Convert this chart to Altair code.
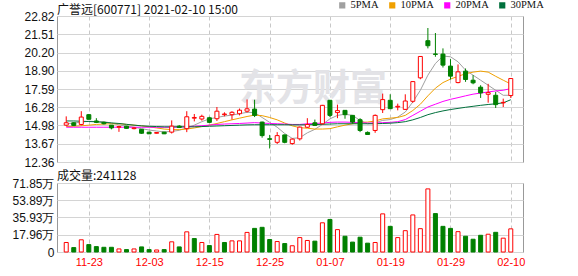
import altair as alt
import pandas as pd
import numpy as np

dates = ["11-18","11-19","11-20","11-23","11-24","11-25","11-26","11-27","11-30","12-01",
         "12-02","12-03","12-04","12-07","12-08","12-09","12-10","12-11","12-14","12-15",
         "12-16","12-17","12-18","12-21","12-22","12-23","12-24","12-25","12-28","12-29",
         "12-30","12-31","01-04","01-05","01-06","01-07","01-08","01-11","01-12","01-13",
         "01-14","01-15","01-18","01-19","01-20","01-21","01-22","01-25","01-26","01-27",
         "01-28","01-29","02-01","02-02","02-03","02-04","02-05","02-08","02-09","02-10"]
opens = [15.00,15.17,15.05,15.75,15.30,15.20,15.00,14.85,14.93,14.75,
         14.70,14.50,14.42,14.50,14.50,14.93,14.75,15.50,15.44,15.53,
         15.46,15.75,15.75,15.82,16.00,16.15,15.22,14.03,13.77,14.30,
         13.68,14.02,14.85,15.17,15.10,16.78,15.90,16.06,15.70,15.39,
         14.48,14.62,16.11,16.78,16.30,16.13,16.71,18.39,21.05,20.10,
         20.09,19.23,18.05,18.87,18.22,17.72,17.21,17.14,16.60,17.12]
highs = [15.63,15.22,16.00,15.80,15.50,15.25,15.00,14.95,14.95,14.85,
         14.72,14.52,14.50,14.52,15.34,15.00,16.00,15.80,15.75,15.60,
         16.30,15.92,16.00,16.19,16.84,16.82,15.25,14.30,14.50,14.32,
         14.05,14.90,15.50,15.40,16.45,16.80,16.47,16.08,15.72,15.50,
         14.55,15.77,17.26,17.21,16.54,17.21,18.15,19.95,21.96,21.60,
         20.50,19.73,19.35,19.06,18.58,17.86,17.96,17.38,16.90,18.36]
lows = [14.93,14.93,14.98,15.40,15.15,15.05,14.70,14.52,14.75,14.70,
        14.38,14.36,14.40,14.36,14.40,14.80,14.50,15.27,15.32,15.15,
        15.30,15.63,15.40,15.70,15.90,15.58,14.10,13.33,13.65,13.70,
        13.60,13.90,14.80,14.95,15.05,15.58,15.50,15.46,15.10,14.50,
        14.33,14.45,15.87,16.18,16.06,16.10,16.60,18.29,20.50,19.90,
        19.13,18.27,18.00,18.10,17.93,16.95,16.61,16.23,16.30,16.95]
closes = [15.17,14.98,15.58,15.42,15.20,15.10,14.80,14.90,14.77,14.80,
          14.42,14.38,14.47,14.38,14.93,14.83,15.60,15.55,15.63,15.20,
          16.00,15.80,15.92,16.07,16.17,15.70,14.25,13.98,14.25,13.77,
          14.00,14.86,15.05,14.98,16.42,15.70,16.04,15.75,15.22,14.62,
          14.33,15.70,16.83,16.18,16.35,16.73,18.12,19.92,20.69,20.07,
          19.30,18.51,18.82,18.27,18.03,17.31,17.33,16.47,16.63,18.34]
volumes = [9.9,4.6,12.7,7.7,5.6,4.9,4.9,3.2,2.5,3.2,
           5.3,2.5,2.1,2.5,10.6,5.3,21.0,14.0,9.9,6.7,
           18.3,9.9,11.6,11.6,20.4,24.6,25.7,13.0,10.9,8.8,
           6.5,15.0,12.0,11.3,30.4,33.9,23.3,16.4,10.3,15.4,
           9.2,9.9,39.7,26.7,15.0,22.2,38.6,24.3,65.7,40.0,
           26.7,24.6,21.2,16.4,13.3,17.4,18.5,20.5,14.4,24.1]
vol_dir = ["up","down","up","down","down","down","down","up","down","up",
           "down","down","up","down","up","down","up","down","up","down",
           "up","down","up","up","up","down","down","down","up","down",
           "up","up","up","down","up","down","up","down","down","down",
           "down","up","up","down","up","up","up","up","up","down",
           "down","down","up","down","down","down","up","down","up","up"]
ma5 = [15.10,15.15,15.22,15.28,15.25,15.25,15.15,15.02,14.92,14.85,
       14.75,14.65,14.58,14.52,14.55,14.63,14.80,15.00,15.25,15.45,
       15.55,15.65,15.72,15.82,15.92,15.90,15.55,15.20,14.85,14.40,
       14.05,14.10,14.45,14.70,15.05,15.45,15.70,15.78,15.70,15.34,
       15.10,15.17,15.34,15.40,15.58,15.94,16.66,17.50,18.58,19.42,
       19.95,19.90,19.54,18.94,18.58,18.22,17.86,17.50,17.14,17.14]
ma10 = [14.90,14.92,14.95,15.00,15.05,15.08,15.10,15.10,15.05,15.00,
        14.95,14.88,14.80,14.72,14.68,14.68,14.72,14.80,14.90,15.00,
        15.12,15.25,15.38,15.50,15.62,15.72,15.68,15.55,15.38,15.15,
        14.95,14.82,14.78,14.72,14.72,14.75,14.88,15.00,15.10,15.20,
        15.22,15.30,15.45,15.50,15.55,15.70,16.05,16.50,17.10,17.65,
        18.05,18.30,18.50,18.68,18.80,18.87,18.80,18.50,18.22,17.95]
ma20 = [14.85,14.85,14.85,14.85,14.85,14.85,14.85,14.85,14.85,14.85,
        14.85,14.85,14.85,14.85,14.85,14.86,14.88,14.92,14.96,15.00,
        15.05,15.08,15.10,15.12,15.15,15.18,15.15,15.12,15.10,15.08,
        15.05,15.05,15.10,15.12,15.15,15.20,15.22,15.22,15.20,15.18,
        15.15,15.15,15.18,15.20,15.25,15.40,15.70,16.00,16.30,16.50,
        16.70,16.85,16.97,17.10,17.22,17.30,17.38,17.45,17.50,17.62]
ma30 = [15.30,15.30,15.28,15.26,15.24,15.20,15.16,15.12,15.06,15.00,
        14.95,14.92,14.90,14.88,14.88,14.88,14.88,14.88,14.90,14.92,
        14.94,14.96,14.98,15.00,15.02,15.03,15.03,15.03,15.03,15.03,
        15.02,15.02,15.03,15.04,15.06,15.08,15.10,15.10,15.10,15.10,
        15.10,15.10,15.12,15.14,15.18,15.25,15.38,15.55,15.75,15.90,
        16.02,16.12,16.20,16.28,16.35,16.42,16.48,16.53,16.60,16.82]
ma_names = ["5PMA", "10PMA", "20PMA", "30PMA"]
ma_colors = ["#a0a0a0", "#f0a000", "#ff00ff", "#00703c"]
tick_idx = [4, 12, 20, 28, 36, 44, 52, 60]
price_ticks = [12.36, 13.67, 14.98, 16.28, 17.59, 18.90, 20.20, 21.51, 22.82]
vol_ticks = [0, 17.96, 35.93, 53.89, 71.85]
title_text = "广誉远[600771] 2021-02-10 15:00"
vol_title = "成交量:241128"
watermark = "东方财富"

RED = "#ff0000"
GREEN = "#008000"

idx = list(range(1, len(dates) + 1))
df = pd.DataFrame({"i": idx, "date": dates, "open": opens, "high": highs,
                   "low": lows, "close": closes, "vol": volumes, "vdir": vol_dir})
df["dir"] = np.where(df["close"] >= df["open"], "up", "down")

ma_df = pd.concat([
    pd.DataFrame({"i": idx, "ma": name, "v": vals})
    for name, vals in zip(ma_names, [ma5, ma10, ma20, ma30])
])

label_expr = "".join(f"datum.value == {k} ? '{dates[k-1]}' : " for k in tick_idx) + "''"

xscale = alt.Scale(domain=[0.44, 60.96], nice=False, zero=False)
x_top_axis = alt.Axis(values=tick_idx, labels=False, ticks=False, domain=False, grid=True,
                      gridDash=[4, 3], gridColor="#c8c8c8", title=None, minExtent=0, maxExtent=0)
x_bot_axis = alt.Axis(values=tick_idx, labelExpr=label_expr, ticks=False, domain=False, grid=True,
                      gridDash=[4, 3], gridColor="#c8c8c8", title=None, labelColor=RED,
                      labelFontSize=11, labelPadding=4, labelFont="Liberation Sans",
                      labelOverlap=False)

pscale = alt.Scale(domain=[12.36, 22.82], nice=False, zero=False)
p_axis = alt.Axis(values=price_ticks, format=".2f", ticks=False, domain=False, grid=True,
                  gridColor="#d4d4d4", title=None, labelPadding=3, minExtent=50, maxExtent=50,
                  labelFontSize=12, labelFont="Liberation Sans", labelColor="#111",
                  labelOverlap=False)

fill_scale = alt.Scale(domain=["up", "down"], range=["#ffffff", GREEN])
stroke_scale = alt.Scale(domain=["up", "down"], range=[RED, GREEN])

base = alt.Chart(df)

wm = alt.Chart(pd.DataFrame({"t": [watermark]})).mark_text(
    fontSize=37, font="Noto Sans CJK SC", fontWeight="bold", color="#e3e3e7"
).encode(text="t:N", x=alt.value(256), y=alt.value(74))

lines = alt.Chart(ma_df).mark_line(strokeWidth=1).encode(
    x=alt.X("i:Q", scale=xscale, axis=x_top_axis),
    y=alt.Y("v:Q", scale=pscale, axis=p_axis),
    color=alt.Color("ma:N", scale=alt.Scale(domain=ma_names, range=ma_colors),
                    legend=alt.Legend(title=None, orient="none", legendX=280, legendY=-16,
                                      direction="horizontal", symbolType="square",
                                      symbolSize=10, symbolStrokeWidth=3,
                                      labelFont="Liberation Serif", labelFontSize=10.5,
                                      labelColor="#111", columnPadding=5, labelOffset=3)),
    detail="ma:N",
)

wicks = base.mark_rule(strokeWidth=1).encode(
    x=alt.X("i:Q", scale=xscale, axis=x_top_axis),
    y=alt.Y("low:Q", scale=pscale, axis=p_axis),
    y2="high:Q",
    stroke=alt.Stroke("dir:N", scale=stroke_scale, legend=None),
)

bodies = base.mark_bar(size=4, strokeWidth=1).encode(
    x=alt.X("i:Q", scale=xscale, axis=x_top_axis),
    y=alt.Y("open:Q", scale=pscale, axis=p_axis),
    y2="close:Q",
    fill=alt.Fill("dir:N", scale=fill_scale, legend=None),
    stroke=alt.Stroke("dir:N", scale=stroke_scale, legend=None),
)

price = alt.layer(wm, lines, wicks, bodies).properties(
    width=466, height=146,
    title=alt.TitleParams(text=title_text, anchor="start", frame="group", fontSize=12,
                          font="Noto Sans CJK SC", fontWeight="normal", offset=-7, color="#111"),
).resolve_scale(fill="independent", stroke="independent")

vscale = alt.Scale(domain=[0, 71.85], nice=False, zero=True)
v_axis = alt.Axis(values=vol_ticks, ticks=False, domain=False, grid=True, gridColor="#d4d4d4",
                  title=None, labelPadding=3, minExtent=50, maxExtent=50, labelFontSize=12,
                  labelFont="Liberation Sans", labelColor="#111", labelOverlap=False,
                  labelExpr="datum.value == 0 ? '0' : format(datum.value, '.2f') + '万'")

vbars = base.mark_bar(size=4, strokeWidth=1).encode(
    x=alt.X("i:Q", scale=xscale, axis=x_bot_axis),
    y=alt.Y("vol:Q", scale=vscale, axis=v_axis),
    fill=alt.Fill("vdir:N", scale=fill_scale, legend=None),
    stroke=alt.Stroke("vdir:N", scale=stroke_scale, legend=None),
).properties(
    width=466, height=69,
    title=alt.TitleParams(text=vol_title, anchor="start", frame="group", fontSize=12,
                          font="Noto Sans CJK SC", fontWeight="normal", offset=-6, color="#111"),
)

chart = alt.vconcat(price, vbars, spacing=0).properties(
    padding={"left": 6, "top": 0, "right": 5, "bottom": 0},
    background="white",
).configure_view(stroke="#999999", strokeWidth=1).configure_axis(labelOverlap=False)

chart.save("out.html", embed_options={"renderer": "svg", "actions": False})
